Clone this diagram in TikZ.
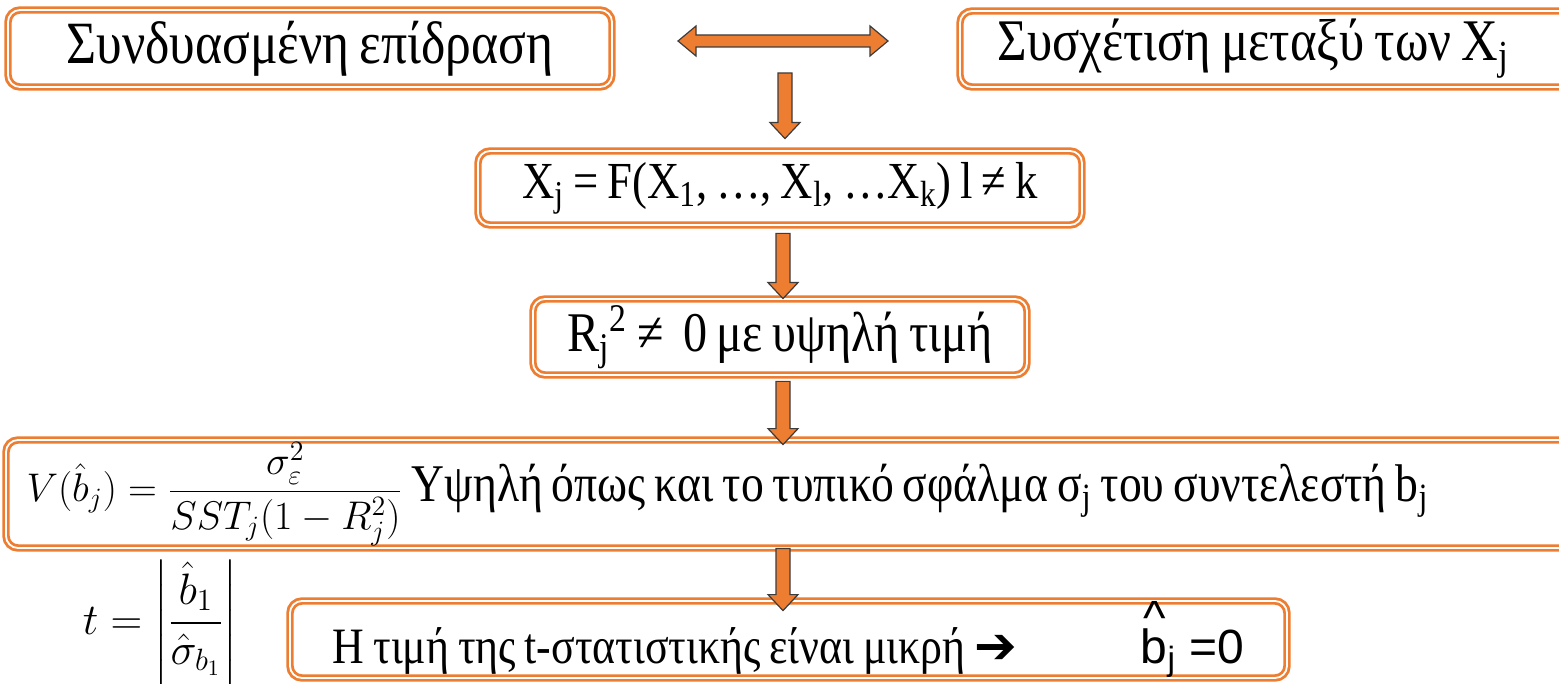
\RequirePackage{fix-cm}
\documentclass[tikz,border=0pt]{standalone}
\usepackage{amsmath}
\usepackage{fontspec}
\setmainfont{Liberation Serif}[FakeStretch=0.86,WordSpace=0.8]
\newfontfamily\arrowfont{DejaVu Sans}
\newfontfamily\hatfont{Liberation Sans}
\usetikzlibrary{calc}
\definecolor{boxorange}{RGB}{237,125,49}
\definecolor{arrowedge}{RGB}{60,60,60}

\tikzset{
  flowbox/.style={draw=boxorange,double=white,double distance=0.9pt,line width=1.4pt,
    rounded corners=6pt,fill=white,inner sep=0pt,font=\fontsize{29}{33}\selectfont},
  blockarrow/.style={draw=arrowedge,fill=boxorange,line width=0.6pt,line join=miter}
}

% down block arrow: start point, tip (only the tip's height is used)
\newcommand{\blockdown}[2]{%
  \draw[blockarrow] let \p1=(#1), \p2=(#2) in
    (\x1-3.5pt,\y1) -- (\x1+3.5pt,\y1) -- (\x1+3.5pt,\y2+8pt) -- (\x1+7.5pt,\y2+8pt)
    -- (\x1,\y2) -- (\x1-7.5pt,\y2+8pt) -- (\x1-3.5pt,\y2+8pt) -- cycle;}
% left-right block arrow
\newcommand{\blockboth}[2]{%
  \draw[blockarrow] let \p1=(#1), \p2=(#2) in
    (\x1,\y1) -- (\x1+9pt,\y1+7.5pt) -- (\x1+9pt,\y1+3pt) -- (\x2-9pt,\y1+3pt)
    -- (\x2-9pt,\y1+7.5pt) -- (\x2,\y1) -- (\x2-9pt,\y1-7.5pt) -- (\x2-9pt,\y1-3pt)
    -- (\x1+9pt,\y1-3pt) -- (\x1+9pt,\y1-7.5pt) -- cycle;}

\begin{document}
\begin{tikzpicture}[x=0.5pt,y=-0.5pt]
  \useasboundingbox (0,0) rectangle (1559,684);
  % boxes
  \node[flowbox,minimum width=302pt,minimum height=38.5pt,font=\fontsize{30}{34}\selectfont]
    (joint) at (310,48.5) {Συνδυασμένη επίδραση};
  \node[flowbox,minimum width=308.5pt,minimum height=38pt,text width=271pt,align=flush left,
    font=\fontsize{29.5}{34}\selectfont]
    (corr) at (1268.5,49) {Συσχέτιση μεταξύ των X\textsubscript{j}};
  \node[flowbox,minimum width=302pt,minimum height=37pt,font=\fontsize{26}{30}\selectfont]
    (func) at (780,188)
    {X\textsubscript{j} = F(X\textsubscript{1}, …, X\textsubscript{l}, …X\textsubscript{k}) l ≠ k};
  \node[flowbox,minimum width=247pt,minimum height=38pt,font=\fontsize{28}{32}\selectfont]
    (rsq) at (780,337) {R\textsubscript{j}\textsuperscript{2} ≠\ \ 0 με υψηλή τιμή};
  \node[flowbox,minimum width=785.5pt,minimum height=54pt,text width=765pt,align=flush left,
    font=\fontsize{26.5}{30}\selectfont] (var) at (791.5,494)
    {{\fontsize{20}{24}\selectfont$\displaystyle V(\hat{b}_j)=\frac{\sigma_{\varepsilon}^{2}}{SST_j(1-R_j^2)}$}\
     Υψηλή όπως και το τυπικό σφάλμα σ\textsubscript{j} του συντελεστή b\textsubscript{j}};
  \node[flowbox,minimum width=498.5pt,minimum height=38.5pt,
    font=\fontsize{25.5}{30}\selectfont] (tstat) at (788.5,639.5)
    {Η τιμή της t-στατιστικής είναι μικρή {\arrowfont ➔}\hspace{62pt}%
     {\hatfont\fontsize{24}{28}\selectfont\rlap{\raisebox{0.6em}{\kern0.05em\char"5E}}b\textsubscript{j} =0}};
  \node (tratio) at (160,623)
    {\fontsize{22}{26}\selectfont$\displaystyle t=\left|\frac{\hat{b}_1}{\hat{\sigma}_{b_1}}\right|$};
  % arrows
  \coordinate (dl) at (678,41);
  \coordinate (dr) at (888,41);
  \coordinate (drop) at (785,73);
  \blockboth{dl}{dr}
  \blockdown{drop}{$(func.north)+(0,-11)$}
  \blockdown{$(func.south)+(3,7)$}{$(rsq.north)+(0,1)$}
  \blockdown{$(rsq.south)+(3,5)$}{$(var.north)+(0,6)$}
  \blockdown{$(var.south)+(-8.5,-1)$}{$(tstat.north)+(0,11)$}
\end{tikzpicture}
\end{document}
